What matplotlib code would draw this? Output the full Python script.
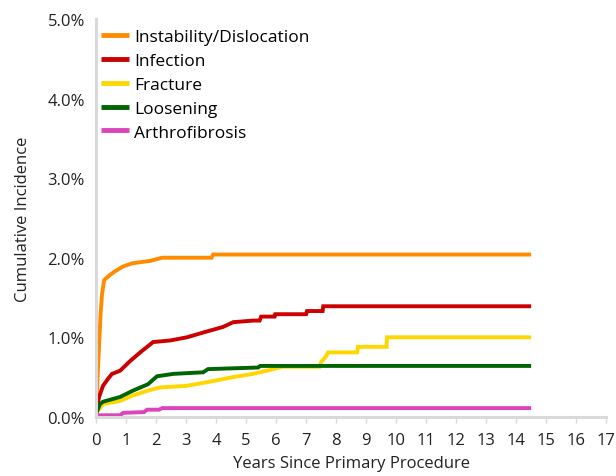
import matplotlib
matplotlib.use("Agg")
import matplotlib.pyplot as plt
from matplotlib.ticker import FuncFormatter, MultipleLocator

plt.rcParams['font.family'] = ['Open Sans', 'DejaVu Sans']

labels = ["Instability/Dislocation", "Infection", "Fracture", "Loosening", "Arthrofibrosis"]
colors = ["#FF8C00", "#CC0000", "#FFD700", "#006400", "#DD44BB"]

inst_t = [0, 0.05, 0.1, 0.15, 0.2, 0.27, 0.45, 0.63, 0.9, 1.2, 1.8, 2.2, 3.85, 3.9, 14.5]
inst_v = [0.10, 0.50, 0.90, 1.30, 1.55, 1.72, 1.78, 1.83, 1.89, 1.93, 1.96, 2.00, 2.00, 2.04, 2.04]

inf_t = [0, 0.1, 0.23, 0.4, 0.53, 0.8, 1.13, 1.47, 1.9, 2.47, 3.03, 3.57, 4.23, 4.57, 5.23,
         5.45, 5.5, 5.95, 5.97, 7.0, 7.03, 7.55, 7.57, 14.5]
inf_v = [0.06, 0.25, 0.39, 0.48, 0.54, 0.58, 0.70, 0.81, 0.94, 0.96, 1.00, 1.06, 1.13, 1.19, 1.21,
         1.21, 1.26, 1.26, 1.29, 1.29, 1.33, 1.33, 1.39, 1.39]

fra_t = [0, 0.23, 0.8, 1.23, 1.73, 2.13, 3.03, 3.47, 3.9, 4.57, 5.23, 5.8, 6.2, 7.45, 7.5,
         7.65, 7.73, 8.7, 8.73, 9.68, 9.7, 14.5]
fra_v = [0.05, 0.16, 0.20, 0.27, 0.33, 0.37, 0.39, 0.42, 0.45, 0.50, 0.54, 0.59, 0.63, 0.63, 0.69,
         0.75, 0.81, 0.81, 0.88, 0.88, 1.00, 1.00]

loo_t = [0, 0.13, 0.23, 0.8, 1.23, 1.73, 2.03, 2.57, 3.57, 3.73, 5.4, 5.47, 14.5]
loo_v = [0.04, 0.16, 0.19, 0.25, 0.33, 0.41, 0.51, 0.54, 0.56, 0.60, 0.62, 0.64, 0.64]

art_t = [0, 0.8, 0.9, 1.6, 1.7, 2.1, 2.2, 14.5]
art_v = [0.02, 0.02, 0.05, 0.06, 0.09, 0.09, 0.11, 0.11]

series = [(inst_t, inst_v), (inf_t, inf_v), (fra_t, fra_v), (loo_t, loo_v), (art_t, art_v)]

fig = plt.figure(figsize=(6.16, 4.77), dpi=100)
ax = fig.add_axes([0.156, 0.124, 0.828, 0.834])

for (t, v), lab, c in zip(series, labels, colors):
    ax.plot(t, [x / 100 for x in v], color=c, lw=2.8, label=lab, solid_joinstyle='miter',
            solid_capstyle='butt')

ax.set_xlim(0, 17)
ax.set_ylim(0, 0.05)
ax.xaxis.set_major_locator(MultipleLocator(1))
ax.yaxis.set_major_locator(MultipleLocator(0.01))
ax.yaxis.set_major_formatter(FuncFormatter(lambda v, p: f"{v*100:.1f}%"))

for s in ['top', 'right']:
    ax.spines[s].set_visible(False)
for s in ['left', 'bottom']:
    ax.spines[s].set_color('#D9D9D9')
    ax.spines[s].set_linewidth(2.2)

ax.tick_params(axis='x', colors='#D9D9D9', length=4, width=1, labelcolor='#222222', labelsize=12, pad=7)
ax.tick_params(axis='y', colors='#D9D9D9', length=0, labelcolor='#222222', labelsize=12, pad=8)

ax.set_xlabel("Years Since Primary Procedure", fontsize=12, color='#222222', labelpad=5)
ax.set_ylabel("Cumulative Incidence", fontsize=12, color='#222222', labelpad=12)

leg = ax.legend(loc='upper left', bbox_to_anchor=(-0.014, 1.005), frameon=False, fontsize=12.5,
                handlelength=1.6, handletextpad=0.3, labelspacing=0.44, borderaxespad=0.3)
for h in leg.get_lines():
    h.set_linewidth(3.5)

fig.savefig("out.png", dpi=100)
